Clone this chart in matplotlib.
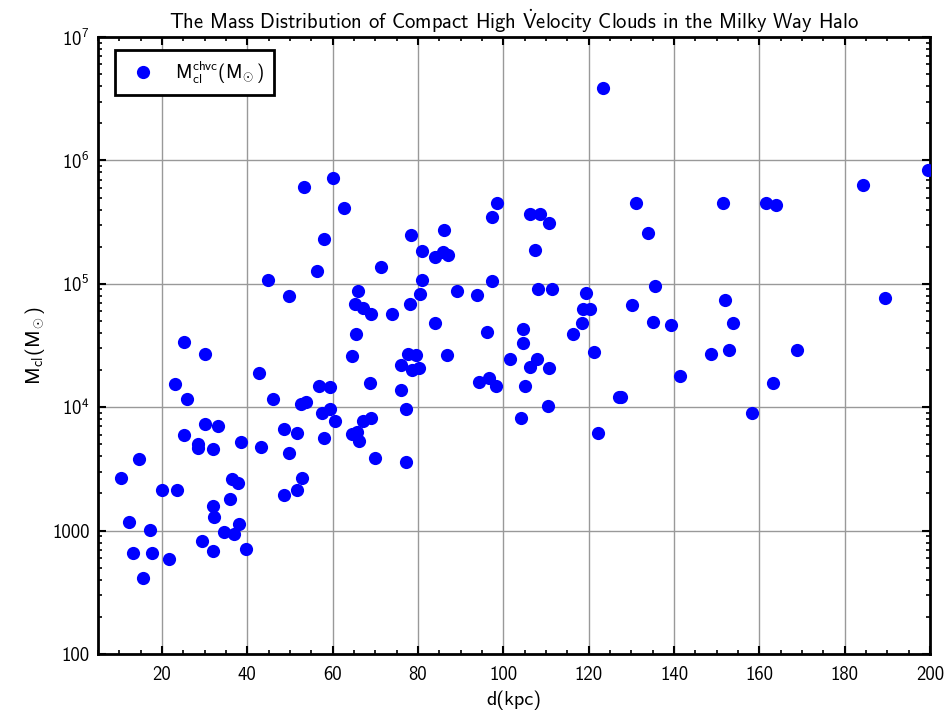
import numpy as np
import matplotlib
matplotlib.use("Agg")
import matplotlib.pyplot as plt
from matplotlib.ticker import FixedLocator, MultipleLocator, LogLocator, FixedFormatter, NullFormatter

plt.rcParams['font.family'] = ['cmss10', 'DejaVu Sans']
plt.rcParams['mathtext.fontset'] = 'custom'
plt.rcParams['mathtext.rm'] = 'cmss10'
plt.rcParams['mathtext.it'] = 'cmss10'
plt.rcParams['mathtext.bf'] = 'cmss10'
plt.rcParams['mathtext.sf'] = 'cmss10'
plt.rcParams['axes.unicode_minus'] = False

# distance d (kpc)
d_kpc = [10.4, 12.2, 13.3, 14.7, 15.5, 17.2, 17.6, 20.0, 21.7, 23.1, 23.4, 25.2, 25.2, 25.9,
         28.4, 28.4, 29.3, 30.1, 30.1, 31.9, 31.9, 32.0, 32.3, 33.1, 34.5, 35.9, 36.3, 36.9,
         37.7, 38.1, 38.6, 39.8, 42.7, 43.2, 44.9, 46.1, 48.5, 48.7, 49.8, 49.8, 51.6, 51.6,
         52.6, 52.9, 53.3, 53.7, 56.3, 56.7, 57.4, 58.0, 58.0, 59.4, 59.4, 60.0, 60.6, 62.6,
         64.6, 64.6, 65.2, 65.4, 65.6, 65.9, 66.2, 67.2, 67.2, 68.8, 68.9, 68.9, 70.0, 71.3,
         73.8, 75.9, 76.0, 77.2, 77.2, 77.7, 78.1, 78.4, 78.5, 79.5, 80.3, 80.5, 80.9, 80.9,
         83.9, 83.9, 86.0, 85.9, 86.9, 87.1, 89.1, 93.8, 94.4, 96.2, 96.7, 97.4, 97.4, 98.3,
         98.6, 101.6, 104.1, 104.5, 104.5, 105.0, 106.2, 106.2, 107.4, 108.2, 108.6, 108.0,
         110.4, 110.8, 110.8, 111.3, 116.3, 118.4, 118.7, 119.3, 120.2, 121.3, 122.3, 123.4,
         127.2, 127.6, 130.2, 131.1, 134.0, 135.1, 135.6, 139.4, 141.5, 148.7, 151.6, 152.0,
         153.0, 153.8, 158.3, 161.6, 163.3, 164.0, 168.9, 184.4, 189.5, 199.5]

# cloud mass M_cl (solar masses)
mass_msun = [2690, 1170, 655, 3780, 411, 1010, 655, 2120, 589, 15350, 2120, 33950, 5955, 11590,
             5030, 4645, 828, 26990, 7310, 1580, 4580, 684, 1280, 7040, 979, 1790, 2610, 938,
             2415, 1140, 5250, 705, 18820, 4730, 107300, 11590, 6655, 1943, 79640, 4276, 2133, 6140,
             10610, 2690, 612000, 11020, 127000, 14790, 8930, 230700, 5600, 14450, 9610, 724000, 7780, 409000,
             26140, 6030, 69000, 39430, 6330, 87900, 5350, 64000, 7730, 15790, 56900, 8220, 3855, 136000,
             56600, 22180, 13830, 9670, 3617, 27230, 69000, 247000, 20000, 26490, 20650, 82200, 184500, 107300,
             47860, 166000, 273000, 180000, 26240, 170300, 87900, 81100, 15930, 40440, 17150, 345900, 105400, 14860,
             454000, 24440, 8130, 43250, 32960, 14860, 370000, 21280, 189000, 90800, 370000, 24440,
             10280, 312800, 20890, 90800, 39170, 47860, 62840, 84700, 62840, 28000, 6210, 3880000,
             12030, 12160, 66950, 451400, 256600, 49300, 96600, 46380, 17990, 27150, 451400, 73900,
             28900, 47860, 8930, 451400, 15790, 437500, 28900, 632000, 76700, 836000]

x_ticks = [20, 40, 60, 80, 100, 120, 140, 160, 180, 200]
x_tick_labels = [str(v) for v in x_ticks]
y_ticks = [1e2, 1e3, 1e4, 1e5, 1e6, 1e7]
y_tick_labels = ['100', '1000', r'$10^4$', r'$10^5$', r'$10^6$', r'$10^7$']

fig = plt.figure(figsize=(9.48, 7.12), dpi=100)
ax = fig.add_axes([98/948, 1-654/712, (930-98)/948, (654-37)/712])

ax.plot(d_kpc, mass_msun, linestyle='none', marker='o', markersize=9.5,
        color='#0000ff', markeredgewidth=0,
        label=r'$\mathrm{M_{cl}^{chvc}(M_{\!\odot})}$', zorder=3)

ax.set_yscale('log')
ax.set_xlim(5, 200)
ax.set_ylim(100, 1e7)

ax.xaxis.set_major_locator(FixedLocator(x_ticks))
ax.xaxis.set_major_formatter(FixedFormatter(x_tick_labels))
ax.xaxis.set_minor_locator(MultipleLocator(5))
ax.yaxis.set_major_locator(FixedLocator(y_ticks))
ax.yaxis.set_major_formatter(FixedFormatter(y_tick_labels))
ax.yaxis.set_minor_locator(LogLocator(base=10, subs=np.arange(2, 10)))
ax.yaxis.set_minor_formatter(NullFormatter())

ax.tick_params(which='both', direction='in', top=True, right=True, labelsize=13.5, colors='black')
ax.tick_params(which='major', length=6, width=1.5)
ax.tick_params(axis='x', which='major', pad=9)
ax.tick_params(axis='y', which='major', pad=6)
ax.tick_params(which='minor', length=3, width=1.2)

for s in ax.spines.values():
    s.set_linewidth(2.0)
    s.set_color('black')

ax.grid(True, which='major', color='#999999', linewidth=1.0)
ax.set_axisbelow(True)

ax.set_xlabel('d(kpc)', fontsize=14.5, labelpad=4)
ax.set_ylabel(r'$\mathrm{M_{cl}(M_{\!\odot})}$', fontsize=14.5)
ax.set_title(r'The Mass Distribution of Compact High $\dot{\mathrm{V}}$elocity Clouds in the Milky Way Halo',
             fontsize=14.8, pad=6)

leg = ax.legend(loc='upper left', bbox_to_anchor=(17/832, 1 - 13/617), fontsize=13.5,
                fancybox=False, framealpha=1, edgecolor='black', borderpad=0.5,
                handletextpad=0.7, numpoints=1, borderaxespad=0.0)
leg.get_frame().set_linewidth(2.0)

fig.savefig('out.png', dpi=100)
